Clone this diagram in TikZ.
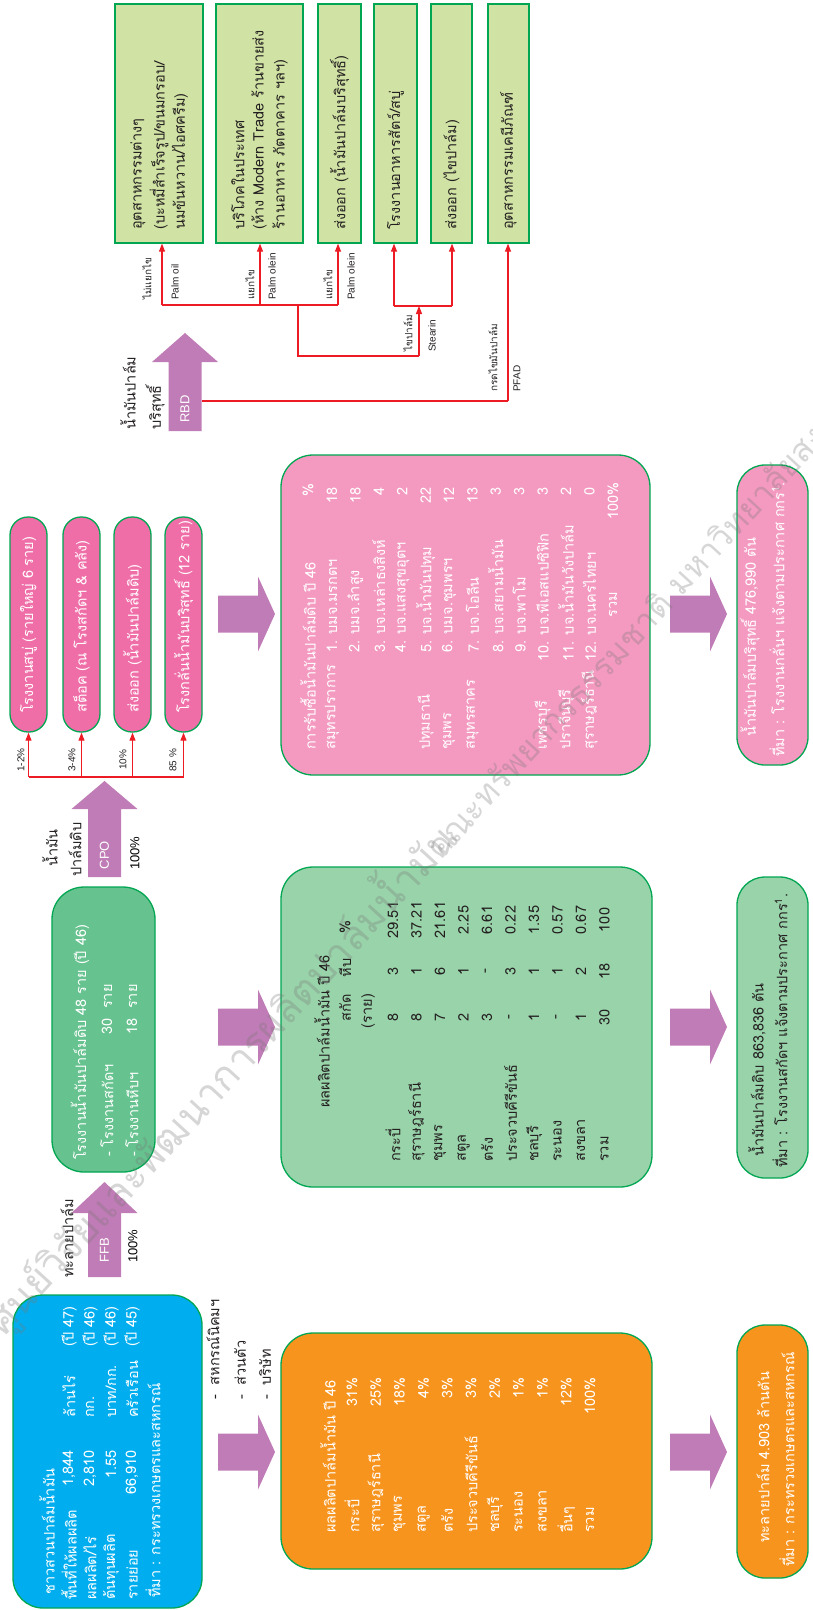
\documentclass[tikz,border=0pt]{standalone}
\usepackage{fontspec}
\setmainfont[Script=Thai]{Loma}
\newfontfamily\latinsans{Liberation Sans}
\usetikzlibrary{arrows.meta,fit}

\definecolor{mauve}{RGB}{192,124,182}
\definecolor{cyanbox}{RGB}{0,174,239}
\definecolor{orangebox}{RGB}{247,148,30}
\definecolor{midgreen}{RGB}{102,194,142}
\definecolor{lightgreen}{RGB}{153,211,170}
\definecolor{pinkpill}{RGB}{240,110,168}
\definecolor{pinkbox}{RGB}{244,154,193}
\definecolor{paleolive}{RGB}{209,227,164}
\definecolor{edgegreen}{RGB}{0,166,81}
\definecolor{linkred}{RGB}{237,28,36}
\definecolor{ink}{RGB}{35,31,32}
\definecolor{stampgray}{RGB}{120,120,120}

\newcommand\tabfont{\fontsize{14.5}{16}\selectfont}
\newcommand\tinyfont{\fontsize{10}{12}\selectfont}

% upward block arrow: centre x, shaft bottom, head base, tip (image y, downward)
\newcommand\uparr[4]{%
  \fill[mauve] (#1-16.5,-#2) -- (#1-16.5,-#3) -- (#1-33,-#3) -- (#1,-#4)
    -- (#1+33,-#3) -- (#1+16.5,-#3) -- (#1+16.5,-#2) -- cycle;}
% rightward block arrow: shaft start x, centre y
\newcommand\rightarr[2]{%
  \fill[mauve] (#1,-#2+18.5) -- (#1+40,-#2+18.5) -- (#1+40,-#2+37.5) -- (#1+57,-#2)
    -- (#1+40,-#2-37.5) -- (#1+40,-#2-18.5) -- (#1,-#2-18.5) -- cycle;}

\tikzset{
  panel/.style={draw=edgegreen, line width=1.3pt, inner sep=0pt},
  rt/.style={rotate=90, inner sep=0pt, font=\tabfont},
  rw/.style={rt, anchor=west},
  re/.style={rt, anchor=east},
  rc/.style={rt, anchor=center},
  lab/.style={rt, anchor=west, font=\tinyfont, text=ink},
  link/.style={draw=linkred, line width=1.1pt},
  tip/.style={-{Triangle[width=6pt,length=8pt]}},
  stamp/.style={rotate=47.5, anchor=base west, inner sep=0pt, text=stampgray, opacity=0.3},
}

\begin{document}
\begin{tikzpicture}[x=1pt,y=1pt]
\useasboundingbox (0,0) rectangle (812,-1610);

% ---------- panels ----------
\node[panel, fill=cyanbox, rounded corners=30pt, fit={(13,-1295) (202,-1608)}] (farm) {};
\node[panel, fill=orangebox, rounded corners=32pt, fit={(281,-1333) (652,-1569)}] (ffbtab) {};
\node[panel, fill=orangebox, rounded corners=28pt, fit={(737,-1325) (808,-1578)}] (ffbsum) {};
\node[panel, fill=midgreen, rounded corners=32pt, fit={(52,-887) (155,-1172)}] (mills) {};
\node[panel, fill=lightgreen, rounded corners=32pt, fit={(281,-867) (652,-1187)}] (cpotab) {};
\node[panel, fill=lightgreen, rounded corners=28pt, fit={(737,-877) (808,-1178)}] (cposum) {};
\node[panel, fill=pinkpill, rounded corners=18pt, fit={(10,-517) (47,-732)}] (pill1) {};
\node[panel, fill=pinkpill, rounded corners=18pt, fit={(63,-517) (100,-732)}] (pill2) {};
\node[panel, fill=pinkpill, rounded corners=18pt, fit={(114,-517) (151,-732)}] (pill3) {};
\node[panel, fill=pinkpill, rounded corners=18pt, fit={(165,-517) (202,-732)}] (pill4) {};
\node[panel, fill=pinkbox, rounded corners=32pt, fit={(281,-455) (650,-775)}] (rbdtab) {};
\node[panel, fill=pinkbox, rounded corners=28pt, fit={(737,-465) (808,-765)}] (rbdsum) {};
\node[panel, fill=paleolive, fit={(115,-4) (203,-243)}] (use1) {};
\node[panel, fill=paleolive, fit={(216,-4) (303,-243)}] (use2) {};
\node[panel, fill=paleolive, fit={(318,-4) (361,-243)}] (use3) {};
\node[panel, fill=paleolive, fit={(374,-4) (417,-243)}] (use4) {};
\node[panel, fill=paleolive, fit={(431,-4) (472,-243)}] (use5) {};
\node[panel, fill=paleolive, fit={(488,-4) (529,-243)}] (use6) {};

% ---------- red links from crude oil ----------
\coordinate (s1) at (28.5,-777);
\coordinate (s2) at (81.5,-777);
\coordinate (s3) at (132.5,-777);
\coordinate (s4) at (183.5,-777);
\draw[link] (s1) -- (s4);
\foreach \i in {1,...,4}{\draw[link,tip] (s\i) -- (s\i |- pill\i.south);}

% ---------- block arrows ----------
\uparr{104.5}{1277}{1213}{1182}
\uparr{104.5}{877}{809}{781}
\uparr{185}{431}{362}{333}
\rightarr{218}{1452}
\rightarr{218}{1027}
\rightarr{218}{614}
\rightarr{670}{1452}
\rightarr{670}{1027}
\rightarr{670}{614}

\node[rc, text=white, font=\latinsans\fontsize{13}{15}\selectfont] (ffb) at (104.5,-1250) {FFB};
\node[rc, text=white, font=\latinsans\fontsize{13}{15}\selectfont] (cpo) at (104.5,-855) {CPO};
\node[rc, text=white, font=\latinsans\fontsize{13}{15}\selectfont] (rbd) at (185,-409) {RBD};
\node[rw, font=\latinsans\fontsize{13}{15}\selectfont] (ffbp) at (133,-1263) {100\%};
\node[rw, font=\latinsans\fontsize{13}{15}\selectfont] (cpop) at (135,-870) {100\%};
\node[rw, text=ink] (ffbl) at (67,-1278) {ทะลายปาล์ม};
\node[rw, text=ink] (cpol1) at (50,-867) {น้ำมัน};
\node[rw, text=ink] (cpol2) at (75,-877) {ปาล์มดิบ};
\node[rw, text=ink] (rbdl1) at (128,-430) {น้ำมันปาล์ม};
\node[rw, text=ink] (rbdl2) at (155,-430) {บริสุทธิ์};

% ---------- farmers ----------
\begin{scope}[every node/.append style={text=white}]
\node[rw] (fa0) at (47,-1595) {ชาวสวนปาล์มน้ำมัน};
\node[rw] (fa1) at (69,-1600) {พื้นที่ให้ผลผลิต};
\node[re] (fb1) at (69,-1450) {1,844};
\node[rw] (fc1) at (69,-1418) {ล้านไร่};
\node[rw] (fd1) at (69,-1347) {(ปี 47)};
\node[rw] (fa2) at (90,-1600) {ผลผลิต/ไร่};
\node[re] (fb2) at (90,-1450) {2,810};
\node[rw] (fc2) at (90,-1418) {กก.};
\node[rw] (fd2) at (90,-1347) {(ปี 46)};
\node[rw] (fa3) at (111,-1600) {ต้นทุนผลิต};
\node[re] (fb3) at (111,-1450) {1.55};
\node[rw] (fc3) at (111,-1418) {บาท/กก.};
\node[rw] (fd3) at (111,-1347) {(ปี 46)};
\node[rw] (fa4) at (132,-1600) {รายย่อย};
\node[re] (fb4) at (132,-1450) {66,910};
\node[rw] (fc4) at (132,-1418) {ครัวเรือน};
\node[rw] (fd4) at (132,-1347) {(ปี 45)};
\node[rw] (fsrc) at (153,-1598) {ที่มา : กระทรวงเกษตรและสหกรณ์};
\end{scope}
\node[rw, text=ink] (own1) at (213,-1400) {-\ \ สหกรณ์นิคมฯ};
\node[rw, text=ink] (own2) at (240,-1400) {-\ \ ส่วนตัว};
\node[rw, text=ink] (own3) at (265,-1400) {-\ \ บริษัท};

% ---------- FFB production by province ----------
\node[rw, text=white] (ot) at (328,-1533) {ผลผลิตปาล์มน้ำมัน ปี 46};
\foreach \k/\p/\v in {0/กระบี่/31\%, 1/สุราษฎร์ธานี/25\%, 2/ชุมพร/18\%, 3/สตูล/4\%,
  4/ตรัง/3\%, 5/ประจวบคีรีขันธ์/3\%, 6/ชลบุรี/2\%, 7/ระนอง/1\%, 8/สงขลา/1\%,
  9/อื่นๆ/12\%, 10/รวม/100\%}{
  \node[rw, text=white] (op\k) at (352+23.8*\k,-1533) {\p};
  \node[re, text=white] (ov\k) at (352+23.8*\k,-1377) {\v};
}
\node[rw, text=white] (os1) at (763,-1543) {ทะลายปาล์ม 4.903 ล้านตัน};
\node[rw, text=white] (os2) at (787,-1567) {ที่มา : กระทรวงเกษตรและสหกรณ์};

% ---------- crude palm oil mills ----------
\node[rw, text=white] (m1) at (80,-1160) {โรงงานน้ำมันปาล์มดิบ 48 ราย (ปี 46)};
\node[rw, text=white] (m2) at (107,-1157) {-\ โรงงานสกัดฯ};
\node[rw, text=white] (m2n) at (107,-1035) {30\ \ ราย};
\node[rw, text=white] (m3) at (132,-1157) {-\ โรงงานหีบฯ};
\node[rw, text=white] (m3n) at (132,-1035) {18\ \ ราย};

\node[rw, text=ink] (gt) at (322,-1108) {ผลผลิตปาล์มน้ำมัน ปี 46};
\node[rc, text=ink] (gh1) at (345,-1008) {สกัด};
\node[rc, text=ink] (gh2) at (345,-968) {หีบ};
\node[rc, text=ink] (gh3) at (345,-927) {\%};
\node[rc, text=ink] (gh4) at (368,-1011) {(ราย)};
\foreach \k/\p/\a/\b/\c in {0/กระบี่/8/3/29.51, 1/สุราษฎร์ธานี/8/1/37.21, 2/ชุมพร/7/6/21.61,
  3/สตูล/2/1/2.25, 4/ตรัง/3/-/6.61, 5/ประจวบคีรีขันธ์/-/3/0.22, 6/ชลบุรี/1/1/1.35,
  7/ระนอง/-/1/0.57, 8/สงขลา/1/2/0.67, 9/รวม/30/18/100}{
  \node[rw, text=ink] (gp\k) at (393+23.5*\k,-1162) {\p};
  \node[rc, text=ink] (ga\k) at (393+23.5*\k,-1017) {\a};
  \node[rc, text=ink] (gb\k) at (393+23.5*\k,-971) {\b};
  \node[rc, text=ink] (gc\k) at (393+23.5*\k,-920) {\c};
}
\node[rw, text=ink] (gs1) at (757,-1157) {น้ำมันปาล์มดิบ 863,836 ตัน};
\node[rw, text=ink] (gs2) at (780,-1168) {ที่มา : โรงงานสกัดฯ แจ้งตามประกาศ กกร\textsuperscript{1}.};

% ---------- crude oil outlets ----------
\node[rw, text=white] (p1) at (28.5,-713) {โรงงานสบู่ (รายใหญ่ 6 ราย)};
\node[rw, text=white] (p2) at (81.5,-713) {สต็อค (ณ โรงสกัดฯ \& คลัง)};
\node[rw, text=white] (p3) at (132.5,-713) {ส่งออก (น้ำมันปาล์มดิบ)};
\node[rw, text=white] (p4) at (183.5,-713) {โรงกลั่นน้ำมันบริสุทธิ์ (12 ราย)};
\node[rw, font=\latinsans\tinyfont, text=ink] (q1) at (21,-772) {1-2\%};
\node[rw, font=\latinsans\tinyfont, text=ink] (q2) at (72,-772) {3-4\%};
\node[rw, font=\latinsans\tinyfont, text=ink] (q3) at (123,-770) {10\%};
\node[rw, font=\latinsans\tinyfont, text=ink] (q4) at (173,-772) {85 \%};

% ---------- refiners ----------
\node[rw, text=white] (rt) at (308,-750) {การรับซื้อน้ำมันปาล์มดิบ ปี 46};
\node[rc, text=white] (rth) at (308,-490) {\%};
\foreach \k/\p/\c/\v in {0/สมุทรปราการ/1. บมจ.มรกตฯ/18, 1//2. บมจ.ลำสูง/18,
  2//3. บจ.เหล่าธงสิงห์/4, 3//4. บจ.แสงสุขอุตฯ/2, 4/ปทุมธานี/5. บจ.น้ำมันปทุม/22,
  5/ชุมพร/6. บมจ.ชุมพรฯ/12, 6/สมุทรสาคร/7. บจ.โอลีน/13, 7//8. บจ.สยามน้ำมัน/3,
  8//9. บจ.พาโม/3}{
  \node[rw, text=white] (rp\k) at (332+23.4*\k,-750) {\p};
  \node[rw, text=white] (rc\k) at (332+23.4*\k,-653) {\c};
  \node[re, text=white] (rv\k) at (332+23.4*\k,-487) {\v};
}
\foreach \k/\p/\c/\v in {9/เพชรบุรี/10. บจ.พีเอสแปซิฟิก/3, 10/ปราจีนบุรี/11. บจ.น้ำมันวังปาล์ม/2,
  11/สุราษฎร์ธานี/12. บจ.นครไทยฯ/0}{
  \node[rw, text=white] (rp\k) at (332+23.4*\k,-750) {\p};
  \node[rw, text=white] (rc\k) at (332+23.4*\k,-662) {\c};
  \node[re, text=white] (rv\k) at (332+23.4*\k,-487) {\v};
}
\node[rc, text=white] (rsum) at (613,-605) {รวม};
\node[re, text=white] (rsumv) at (613,-482) {100\%};
\node[rw, text=white] (rs1) at (750,-737) {น้ำมันปาล์มบริสุทธิ์ 476,990 ตัน};
\node[rw, text=white] (rs2) at (777,-757) {ที่มา : โรงงานกลั่นฯ แจ้งตามประกาศ กกร\textsuperscript{1}.};

% ---------- end uses ----------
\begin{scope}[every node/.append style={text=ink}]
\node[rw] (u1a) at (138,-230) {อุตสาหกรรมต่างๆ};
\node[rw] (u1b) at (159,-230) {(บะหมี่สำเร็จรูป/ขนมกรอบ/};
\node[rw] (u1c) at (180,-230) {นมข้นหวาน/ไอศครีม)};
\node[rw] (u2a) at (238,-230) {บริโภคในประเทศ};
\node[rw] (u2b) at (259,-230) {(ห้าง Modern Trade ร้านขายส่ง};
\node[rw] (u2c) at (280,-230) {ร้านอาหาร ภัตตาคาร ฯลฯ)};
\node[rw] (u3) at (339.5,-230) {ส่งออก (น้ำมันปาล์มบริสุทธิ์)};
\node[rw] (u4) at (395.5,-230) {โรงงานอาหารสัตว์/สบู่};
\node[rw] (u5) at (451.5,-230) {ส่งออก (ไขปาล์ม)};
\node[rw] (u6) at (508.5,-230) {อุตสาหกรรมเคมีภัณฑ์};
\end{scope}

% ---------- refined oil fractions ----------
\coordinate (a1) at (162,-305);
\coordinate (a2) at (260,-305);
\coordinate (a3) at (338,-305);
\coordinate (aj) at (298,-305);
\coordinate (ak) at (298,-356);
\coordinate (b0) at (419,-356);
\coordinate (b0t) at (419,-306);
\coordinate (b1) at (394,-306);
\coordinate (b2) at (452,-306);
\coordinate (c0) at (202,-401);
\coordinate (c1) at (508,-401);
\draw[link] (a1) -- (a3);
\draw[link,tip] (a1) -- (a1 |- use1.south);
\draw[link,tip] (a2) -- (a2 |- use2.south);
\draw[link,tip] (a3) -- (a3 |- use3.south);
\draw[link] (aj) -- (ak) -- (b0);
\draw[link,tip] (b0) -- (b0t);
\draw[link] (b1) -- (b2);
\draw[link,tip] (b1) -- (b1 |- use4.south);
\draw[link,tip] (b2) -- (b2 |- use5.south);
\draw[link] (c0) -- (c1);
\draw[link,tip] (c1) -- (c1 |- use6.south);

\node[lab] (l1) at (147,-300) {ไม่แยกไข};
\node[lab, font=\latinsans\tinyfont] (l2) at (175,-300) {Palm oil};
\node[lab] (l3) at (250,-300) {แยกไข};
\node[lab, font=\latinsans\tinyfont] (l4) at (272,-300) {Palm olein};
\node[lab] (l5) at (328,-300) {แยกไข};
\node[lab, font=\latinsans\tinyfont] (l6) at (351,-300) {Palm olein};
\node[lab] (l7) at (408,-352) {ไขปาล์ม};
\node[lab, font=\latinsans\tinyfont] (l8) at (432,-352) {Stearin};
\node[lab] (l9) at (493,-392) {กรดไขมันปาล์ม};
\node[lab, font=\latinsans\tinyfont] (l10) at (517,-392) {PFAD};

% ---------- diagonal stamp ----------
\node[stamp, font=\fontsize{40}{44}\selectfont] (stampa) at (4,-1338)
  {ศูนย์วิจัยและพัฒนาการผลิตปาล์มน้ำมัน};
\node[stamp, font=\fontsize{33}{36}\selectfont] (stampb) at (440,-862)
  {คณะทรัพยากรธรรมชาติ มหาวิทยาลัยสงขลานครินทร์};
\end{tikzpicture}
\end{document}
